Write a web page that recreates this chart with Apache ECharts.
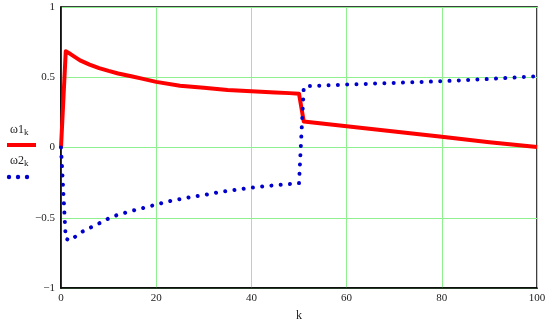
<!DOCTYPE html>
<html>
<head>
<meta charset="utf-8">
<script src="https://cdn.jsdelivr.net/npm/echarts@6/dist/echarts.min.js"></script>
<style>
  html, body { margin: 0; padding: 0; background: #fff; }
  #chart { width: 550px; height: 327px; }
</style>
</head>
<body>
<div id="chart"></div>
<script>
// omega1_k (red solid)
const w1K = [0, 1, 2, 4, 6, 8, 10, 12, 15, 17, 20, 25, 30, 35, 40, 45, 48, 50, 51, 60, 70, 80, 90, 100];
const w1Val = [0, 0.685, 0.665, 0.62, 0.59, 0.565, 0.545, 0.527, 0.505, 0.49, 0.467, 0.44, 0.425, 0.41, 0.4, 0.392, 0.387, 0.383, 0.185, 0.152, 0.114, 0.077, 0.038, 0.003];

// omega2_k (blue dotted)
const w2K = [0, 1, 2, 4, 6, 8, 10, 12, 15, 19, 23, 27, 30, 33, 37, 40, 44, 48, 50, 51, 52, 60, 70, 80, 90, 100];
const w2Val = [0, -0.65, -0.662, -0.607, -0.573, -0.54, -0.505, -0.478, -0.45, -0.415, -0.38, -0.354, -0.338, -0.319, -0.3, -0.286, -0.272, -0.26, -0.255, 0.43, 0.437, 0.448, 0.46, 0.472, 0.488, 0.507];

const xTicks = [0, 20, 40, 60, 80, 100];
const yTicks = [-1, -0.5, 0, 0.5, 1];

const font = "Liberation Serif";
const minus = (v) => (v < 0 ? "\u2212" + (-v) : String(v));

const chart = echarts.init(document.getElementById("chart"));

chart.setOption({
  animation: false,
  grid: {
    left: 61, right: 13, top: 7, bottom: 35,
    show: true, borderColor: "#000", borderWidth: 1.5,
  },
  xAxis: {
    type: "value",
    min: xTicks[0], max: xTicks[xTicks.length - 1], interval: 20,
    name: "k", nameLocation: "middle", nameGap: 22,
    nameTextStyle: { fontFamily: font, fontSize: 12, color: "#222" },
    axisLine: { onZero: false, lineStyle: { color: "#000", width: 1.5 } },
    axisTick: { show: false },
    axisLabel: { fontFamily: font, fontSize: 11, color: "#222", margin: 5 },
    splitLine: { lineStyle: { color: "#8ef08e", width: 1 } },
  },
  yAxis: {
    type: "value",
    min: yTicks[0], max: yTicks[yTicks.length - 1], interval: 0.5,
    axisLine: { onZero: false, lineStyle: { color: "#000", width: 1.5 } },
    axisTick: { show: false },
    axisLabel: { fontFamily: font, fontSize: 11, color: "#222", margin: 6, formatter: minus },
    splitLine: { lineStyle: { color: "#8ef08e", width: 1 } },
  },
  series: [
    {
      name: "w1",
      type: "line",
      data: w1K.map((k, i) => [k, w1Val[i]]),
      symbol: "none",
      lineStyle: { color: "#ff0000", width: 4, join: "round" },
      z: 3,
    },
    {
      name: "w2",
      type: "line",
      data: w2K.map((k, i) => [k, w2Val[i]]),
      symbol: "none",
      lineStyle: { color: "#0000cc", width: 4, type: [0.01, 9.3], cap: "round" },
      z: 4,
    },
  ],
  graphic: [
    {
      type: "text", left: 10, top: 124,
      style: {
        text: "{m|ω1}{s|k}",
        rich: {
          m: { fontFamily: font, fontSize: 12, fill: "#222" },
          s: { fontFamily: font, fontSize: 9, fill: "#222", padding: [6, 0, 0, 0] },
        },
      },
    },
    { type: "line", shape: { x1: 7, y1: 145, x2: 36, y2: 145 }, style: { stroke: "#ff0000", lineWidth: 4 } },
    {
      type: "text", left: 10, top: 155,
      style: {
        text: "{m|ω2}{s|k}",
        rich: {
          m: { fontFamily: font, fontSize: 12, fill: "#222" },
          s: { fontFamily: font, fontSize: 9, fill: "#222", padding: [6, 0, 0, 0] },
        },
      },
    },
    { type: "circle", shape: { cx: 9, cy: 177, r: 2.2 }, style: { fill: "#0000cc" } },
    { type: "circle", shape: { cx: 18, cy: 177, r: 2.2 }, style: { fill: "#0000cc" } },
    { type: "circle", shape: { cx: 27, cy: 177, r: 2.2 }, style: { fill: "#0000cc" } },
  ],
});
</script>
</body>
</html>
